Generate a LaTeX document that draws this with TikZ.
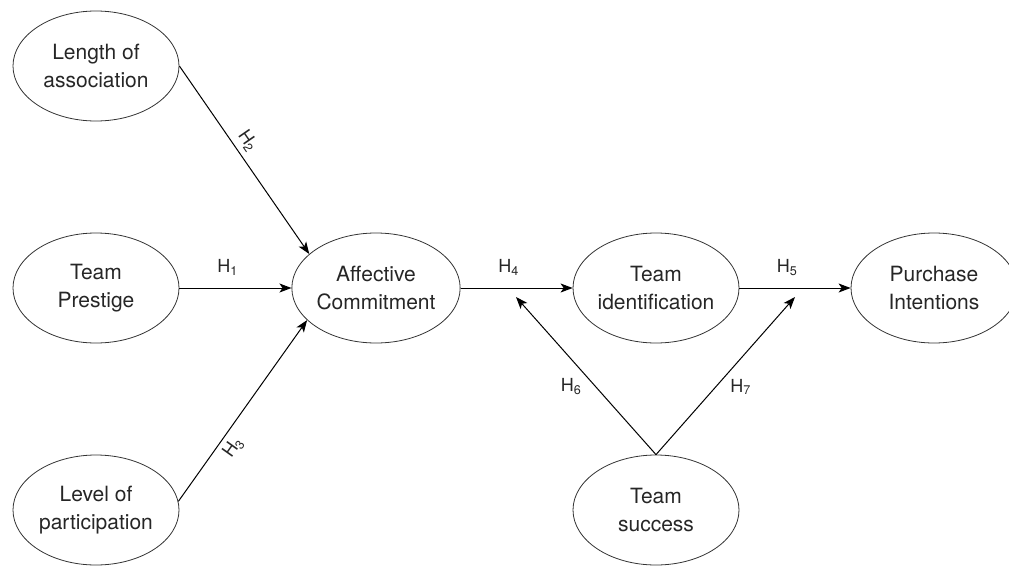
\documentclass[tikz,border=0pt]{standalone}
\usepackage{fontspec}
\setmainfont{TeX Gyre Heros}
\usetikzlibrary{shapes.geometric, arrows.meta}
\begin{document}
\begin{tikzpicture}[x=1pt, y=-1pt, >={Stealth[length=12pt, width=9pt, inset=3pt]}, font=\fontsize{21}{28}\selectfont]
	\tikzstyle{construct} = [ellipse, draw=black!80, text=black!85, line width=0.8pt, minimum width=166pt, minimum height=110pt, inner sep=0pt, align=center]
	\tikzstyle{hyp}       = [font=\fontsize{18}{20}\selectfont, text=black!85, inner sep=2pt]
	\tikzstyle{link}      = [->, line width=1pt]

	\useasboundingbox (0,0) rectangle (1009,565);

	\foreach \name/\x/\y/\text in {len/96/66/{Length of\\association}, pres/96/288/{Team\\Prestige}, lev/96/510/{Level of\\participation}, aff/376/288/{Affective\\Commitment}, iden/656/288/{Team\\identification}, purc/934/288/{Purchase\\Intentions}, succ/656/510/{Team\\success}}
		\node[construct] (\name) at (\x, \y) {\text};

	% moderation targets on the paths
	\coordinate (m4) at (516, 297);
	\coordinate (m5) at (795, 297);

	\foreach \from/\to/\h in {pres/aff/1, aff/iden/4, iden/purc/5}
		\path[link] (\from) edge node[hyp, pos=0.43, above=10pt] {H\textsubscript{\h}} (\to);

	\path[link] (len.east) edge node[hyp, sloped, above=3pt, pos=0.44] {H\textsubscript{2}} (aff.153);
	\path[link] (lev.6) edge node[hyp, sloped, below=3pt, pos=0.34] {H\textsubscript{3}} (aff.205);
	\path[link] (succ.north) edge node[hyp, pos=0.43, left=12pt] {H\textsubscript{6}} (m4);
	\path[link] (succ.north) edge node[hyp, pos=0.43, right=12pt] {H\textsubscript{7}} (m5);

\end{tikzpicture}
\end{document}
